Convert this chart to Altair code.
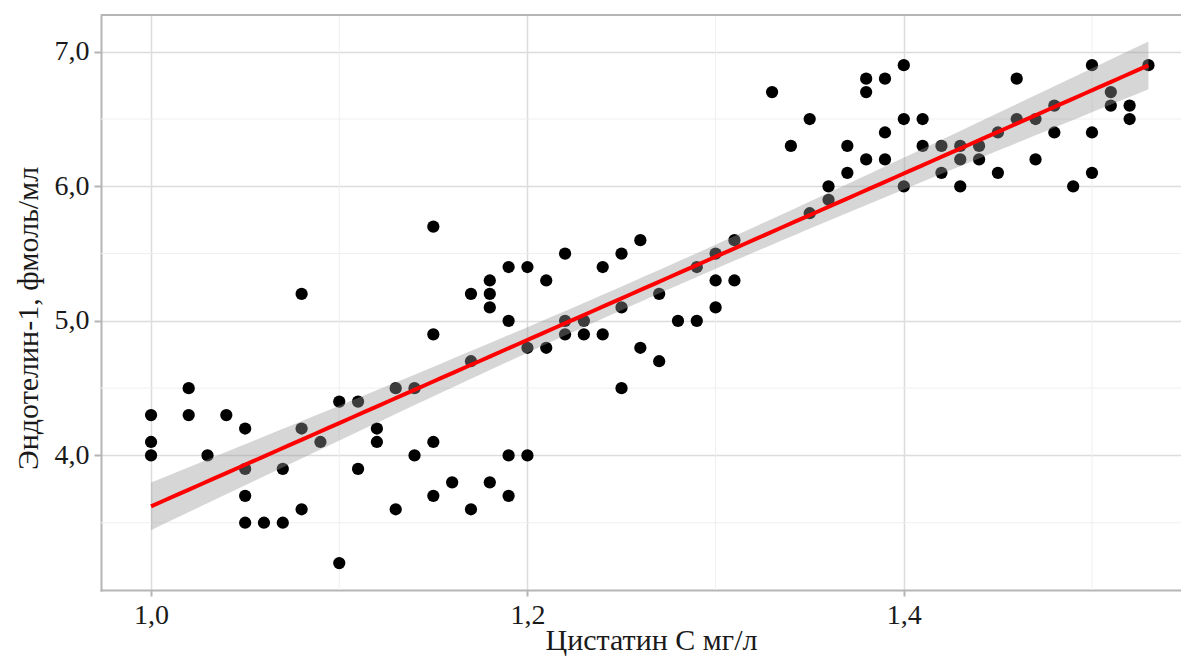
import altair as alt
import numpy as np
import pandas as pd

# ---- data ----
cystatin = [1.00, 1.00, 1.00, 1.02, 1.02, 1.03, 1.04, 1.05, 1.05, 1.05, 1.05,
            1.06, 1.07, 1.07, 1.08, 1.08, 1.08, 1.09, 1.10, 1.10, 1.11, 1.11,
            1.12, 1.12, 1.13, 1.13, 1.14, 1.14, 1.15, 1.15, 1.15, 1.15, 1.16,
            1.17, 1.17, 1.17, 1.18, 1.18, 1.18, 1.18, 1.19, 1.19, 1.19, 1.19,
            1.20, 1.20, 1.20, 1.21, 1.21, 1.22, 1.22, 1.22, 1.23, 1.23, 1.24,
            1.24, 1.25, 1.25, 1.25, 1.26, 1.26, 1.27, 1.27, 1.28, 1.29, 1.29,
            1.30, 1.30, 1.30, 1.31, 1.31, 1.33, 1.34, 1.35, 1.35, 1.36, 1.36,
            1.37, 1.37, 1.38, 1.38, 1.38, 1.39, 1.39, 1.39, 1.40, 1.40, 1.40,
            1.41, 1.41, 1.42, 1.42, 1.43, 1.43, 1.43, 1.44, 1.44, 1.45, 1.45,
            1.46, 1.46, 1.47, 1.47, 1.48, 1.48, 1.49, 1.50, 1.50, 1.50, 1.51,
            1.51, 1.52, 1.52, 1.53]
endothelin = [4.3, 4.1, 4.0, 4.5, 4.3, 4.0, 4.3, 4.2, 3.9, 3.7, 3.5,
              3.5, 3.9, 3.5, 5.2, 4.2, 3.6, 4.1, 4.4, 3.2, 4.4, 3.9,
              4.2, 4.1, 4.5, 3.6, 4.5, 4.0, 5.7, 4.9, 4.1, 3.7, 3.8,
              5.2, 4.7, 3.6, 5.3, 5.2, 5.1, 3.8, 5.4, 5.0, 4.0, 3.7,
              5.4, 4.8, 4.0, 5.3, 4.8, 5.5, 5.0, 4.9, 5.0, 4.9, 5.4,
              4.9, 5.5, 5.1, 4.5, 5.6, 4.8, 5.2, 4.7, 5.0, 5.4, 5.0,
              5.5, 5.3, 5.1, 5.6, 5.3, 6.7, 6.3, 6.5, 5.8, 6.0, 5.9,
              6.3, 6.1, 6.8, 6.7, 6.2, 6.8, 6.4, 6.2, 6.9, 6.5, 6.0,
              6.5, 6.3, 6.3, 6.1, 6.3, 6.2, 6.0, 6.3, 6.2, 6.4, 6.1,
              6.8, 6.5, 6.5, 6.2, 6.6, 6.4, 6.0, 6.9, 6.4, 6.1, 6.7,
              6.6, 6.6, 6.5, 6.9]

x_ticks = [1.0, 1.2, 1.4]
y_ticks = [4.0, 5.0, 6.0, 7.0]
x_minor = [1.1, 1.3, 1.5]
y_minor = [3.5, 4.5, 5.5, 6.5]
x_title = "Цистатин С мг/л"
y_title = "Эндотелин-1, фмоль/мл"

# ---- linear fit with 95% confidence band (like geom_smooth(method="lm")) ----
xa = np.array(cystatin)
ya = np.array(endothelin)
n = len(xa)
slope, intercept = np.polyfit(xa, ya, 1)
resid = ya - (slope * xa + intercept)
s = np.sqrt(np.sum(resid ** 2) / (n - 2))
sxx = np.sum((xa - xa.mean()) ** 2)
t = 1.979
gx = np.linspace(xa.min(), xa.max(), 80)
gy = slope * gx + intercept
se = s * np.sqrt(1.0 / n + (gx - xa.mean()) ** 2 / sxx)
fit = pd.DataFrame({"x": gx, "fit": gy, "lo": gy - t * se, "hi": gy + t * se})

pts = pd.DataFrame({"x": cystatin, "y": endothelin})

W, H = 1080, 575
FONT = "Liberation Serif"
xscale = alt.Scale(domain=[0.9734, 1.5473], nice=False, zero=False)
yscale = alt.Scale(domain=[3.0, 7.273], nice=False, zero=False)
LBL = "replace(format(datum.value, '.1f'), '.', ',')"

xaxis = alt.Axis(values=x_ticks, labelExpr=LBL,
                 title=x_title, grid=True, gridColor="#dcdcdc", gridWidth=1.5,
                 domainColor="#b5b5b5", domainWidth=2, tickColor="#b5b5b5", tickWidth=2,
                 tickSize=6, labelPadding=5, labelFont=FONT, labelFontSize=28,
                 labelColor="#1a1a1a", titleFont=FONT, titleFontSize=30,
                 titleFontWeight="normal", titleColor="#1a1a1a",
                 titleX=550, titleY=59, titleAlign="center", titleBaseline="alphabetic")
yaxis = alt.Axis(values=y_ticks, labelExpr=LBL,
                 title=y_title, grid=True, gridColor="#dcdcdc", gridWidth=1.5,
                 domainColor="#b5b5b5", domainWidth=2, tickColor="#b5b5b5", tickWidth=2,
                 tickSize=7, labelPadding=5, labelFont=FONT, labelFontSize=28,
                 labelColor="#1a1a1a", titleFont=FONT, titleFontSize=30,
                 titleFontWeight="normal", titleColor="#1a1a1a",
                 titleX=-64, titleY=303, titleAngle=270, titleAlign="center",
                 titleBaseline="alphabetic")

minor_x = alt.Chart(pd.DataFrame({"v": x_minor})).mark_rule(
    color="#efefef", strokeWidth=1).encode(
    x=alt.X("v:Q", scale=xscale, axis=xaxis, title=x_title))
minor_y = alt.Chart(pd.DataFrame({"v": y_minor})).mark_rule(
    color="#efefef", strokeWidth=1).encode(
    y=alt.Y("v:Q", scale=yscale, axis=yaxis, title=y_title))

points = alt.Chart(pts).mark_circle(size=150, color="black", opacity=1).encode(
    x=alt.X("x:Q", scale=xscale, axis=xaxis, title=x_title),
    y=alt.Y("y:Q", scale=yscale, axis=yaxis, title=y_title),
)
band = alt.Chart(fit).mark_area(color="#999999", opacity=0.4).encode(
    x=alt.X("x:Q", scale=xscale, axis=xaxis, title=x_title),
    y=alt.Y("lo:Q", scale=yscale, axis=yaxis, title=y_title), y2="hi:Q")
line = alt.Chart(fit).mark_line(color="#ff0000", strokeWidth=4).encode(
    x=alt.X("x:Q", scale=xscale, axis=xaxis, title=x_title),
    y=alt.Y("fit:Q", scale=yscale, axis=yaxis, title=y_title))
top_frame = alt.Chart(pd.DataFrame({"a": [0]})).mark_rule(
    color="#b5b5b5", strokeWidth=2).encode(
    x=alt.value(0), x2=alt.value(W), y=alt.value(0))

chart = alt.layer(minor_x, minor_y, points, band, line, top_frame).properties(
    width=W, height=H,
    autosize=alt.AutoSizeParams(type="none"),
    padding={"left": 93, "top": 7, "right": 0, "bottom": 66},
).configure_view(stroke=None).configure_axis(domainCap="square")

chart.save("out.html", embed_options={"renderer": "svg", "actions": False})
